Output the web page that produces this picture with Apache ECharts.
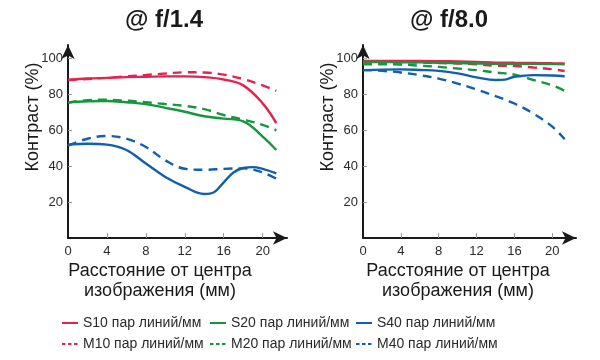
<!DOCTYPE html>
<html><head><meta charset="utf-8">
<script src="https://cdn.jsdelivr.net/npm/echarts@6/dist/echarts.min.js"></script>
<style>html,body{margin:0;padding:0;background:#fff}#c{width:600px;height:360px}</style>
</head><body><div id="c"></div>
<script>
// ---- data ----
const titles = ['@ f/1.4', '@ f/8.0'];
const seriesNames = ['S10 пар линий/мм','M10 пар линий/мм','S20 пар линий/мм','M20 пар линий/мм','S40 пар линий/мм','M40 пар линий/мм'];
const yTitle = 'Контраст (%)';
const xTitle = 'Расстояние от центра\nизображения (мм)';
const xTickLabels = [0,4,8,12,16,20];
const yTickLabels = [20,40,60,80,100];

// f/1.4
const distL = [0,2,4,6,8,10,12,14,16,18,20,21.4];
const distLS40 = [0,2,4,6,8,10,12,14,15,16,17,18,19,20,21.4];
const S10_L = [88,88.8,89.2,89.6,89.8,90,90,89.6,88.3,85,75,64];
const M10_L = [88,88.6,89.2,90,90.8,91.6,92.3,92.2,91,88.5,85,82];
const S20_L = [75.5,76.2,76.3,75.6,74.6,72.5,70.3,67.8,66.5,65,56.5,49];
const M20_L = [75.5,76.8,77,76.5,75.6,74.6,73.6,71.8,68.5,66,63,60];
const S40_L = [52,52.5,52,49,41.5,34,28.5,24.5,25.5,31,36.5,39,39.5,38.5,36];
const M40_L = [51.5,55.3,56.8,55.3,50.7,43.3,38.6,38,38.5,38.8,36.5,33];

// f/8.0
const distR = [0,2,4,6,8,10,12,14,16,18,20,21.3];
const distRS40 = [0,2,4,6,8,10,12,14,15,16,18,20,21.3];
const S10_R = [98.6,98.6,98.6,98.6,98.5,98.3,98,97.7,97.6,97.5,97.3,97.2];
const M10_R = [98,98,97.9,97.7,97.5,97.2,96.7,96,95.8,95,94,93];
const S20_R = [98,98,97.9,97.8,97.6,97.4,97.2,97,97,97,96.9,96.8];
const M20_R = [96.8,96.8,96.6,96,95.3,94.4,93.5,92.2,91,88,85,82];
const S40_R = [93.5,93.8,93.9,93.6,93.1,91.7,89.5,88,88.2,89.8,90.7,90.5,90.1];
const M40_R = [93.5,93.1,92.2,90.7,88.8,86,82.7,79,74.9,69.3,62,55];

// ---- build ----
const colors = {red:'#e5234f', green:'#17963f', blue:'#1060ad'};
const seriesColors = [colors.red, colors.red, colors.green, colors.green, colors.blue, colors.blue];
const dash = [9,6];
const font = 'Liberation Sans, Arial, sans-serif';
const pair = (xs, ys) => xs.map((x,i)=>[x, ys[i]]);

const leftSets = [[distL,S10_L],[distL,M10_L],[distL,S20_L],[distL,M20_L],[distLS40,S40_L],[distL,M40_L]];
const rightSets = [[distR,S10_R],[distR,M10_R],[distR,S20_R],[distR,M20_R],[distRS40,S40_R],[distR,M40_R]];

const grids = [
  {left:68, top:45, width:219, height:193},
  {left:363, top:45, width:213, height:193}
];

const xAxes = [], yAxes = [];
grids.forEach((g, gi) => {
  xAxes.push({type:'value', gridIndex:gi, min:0, max:22.5,
    axisLine:{show:true, lineStyle:{color:'#1a1a1a', width:2}, symbol:['none','arrow'], symbolSize:[10,14], symbolOffset:[0,0]},
    axisTick:{show:true, inside:true, length:5, lineStyle:{color:'#999', width:1}, customValues:[4,8,12,16,20]},
    axisLabel:{show:true, customValues:xTickLabels, color:'#2a2a2a', fontSize:13, fontFamily:font, margin:7},
    splitLine:{show:false}});
  yAxes.push({type:'value', gridIndex:gi, min:0, max:107.5,
    axisLine:{show:true, lineStyle:{color:'#1a1a1a', width:2}, symbol:['none','arrow'], symbolSize:[10,14], symbolOffset:[0,0]},
    axisTick:{show:true, inside:true, length:4, lineStyle:{color:'#999', width:1}, customValues:yTickLabels},
    axisLabel:{show:true, customValues:yTickLabels, color:'#2a2a2a', fontSize:13, fontFamily:font, margin:5},
    splitLine:{show:false}});
});
grids.forEach((g, gi) => {
  xAxes.push({type:'value', gridIndex:gi, min:0, max:22.5, axisLine:{show:false},
    axisTick:{show:true, inside:false, length:5, lineStyle:{color:'#999', width:1}, customValues:[4,8,12,16,20]},
    axisLabel:{show:false}, splitLine:{show:false}});
  yAxes.push({type:'value', gridIndex:gi, min:0, max:107.5, axisLine:{show:false},
    axisTick:{show:true, inside:false, length:4, lineStyle:{color:'#999', width:1}, customValues:yTickLabels},
    axisLabel:{show:false}, splitLine:{show:false}});
});

const series = [];
[leftSets, rightSets].forEach((sets, gi) => {
  sets.forEach((s, i) => {
    series.push({
      type:'line', name:seriesNames[i], xAxisIndex:gi, yAxisIndex:gi,
      data:pair(s[0], s[1]), smooth:0.4, symbol:'none', showSymbol:false,
      lineStyle:{color:seriesColors[i], width:2.4, type:(i%2===1)?dash:'solid'},
      itemStyle:{color:seriesColors[i]}, silent:true, animation:false
    });
  });
});

const legendPos = [[61,316],[61,337],[209,316],[209,337],[355,316],[355,337]];
const legends = seriesNames.map((n,i)=>({
  data:[n], left:legendPos[i][0], top:legendPos[i][1], itemWidth:16, itemHeight:14, itemGap:4, padding:0,
  selectedMode:false, itemStyle:{opacity:0},
  lineStyle:{width:2, type:(i%2===1)?[3.5,2.5]:'solid'},
  textStyle:{color:'#2a2a2a', fontSize:14, fontFamily:font}
}));

const graphic = [
  {type:'text', x:164, y:20, style:{text:titles[0], font:'bold 24px '+font, fill:'#1a1a1a', textAlign:'center', textVerticalAlign:'middle'}},
  {type:'text', x:449, y:20, style:{text:titles[1], font:'bold 24px '+font, fill:'#1a1a1a', textAlign:'center', textVerticalAlign:'middle'}},
  {type:'text', x:33, y:117, rotation:Math.PI/2, style:{text:yTitle, font:'18px '+font, fill:'#1a1a1a', textAlign:'center', textVerticalAlign:'middle'}},
  {type:'text', x:328, y:117, rotation:Math.PI/2, style:{text:yTitle, font:'18px '+font, fill:'#1a1a1a', textAlign:'center', textVerticalAlign:'middle'}},
  {type:'text', x:160, y:281, style:{text:xTitle, font:'18px '+font, fill:'#1a1a1a', textAlign:'center', textVerticalAlign:'middle', lineHeight:20}},
  {type:'text', x:458, y:281, style:{text:xTitle, font:'18px '+font, fill:'#1a1a1a', textAlign:'center', textVerticalAlign:'middle', lineHeight:20}}
];

const chart = echarts.init(document.getElementById('c'), null, {renderer:'canvas'});
chart.setOption({
  animation:false, backgroundColor:'#fff',
  grid:grids, xAxis:xAxes, yAxis:yAxes, series:series, legend:legends, graphic:graphic
});
</script></body></html>
